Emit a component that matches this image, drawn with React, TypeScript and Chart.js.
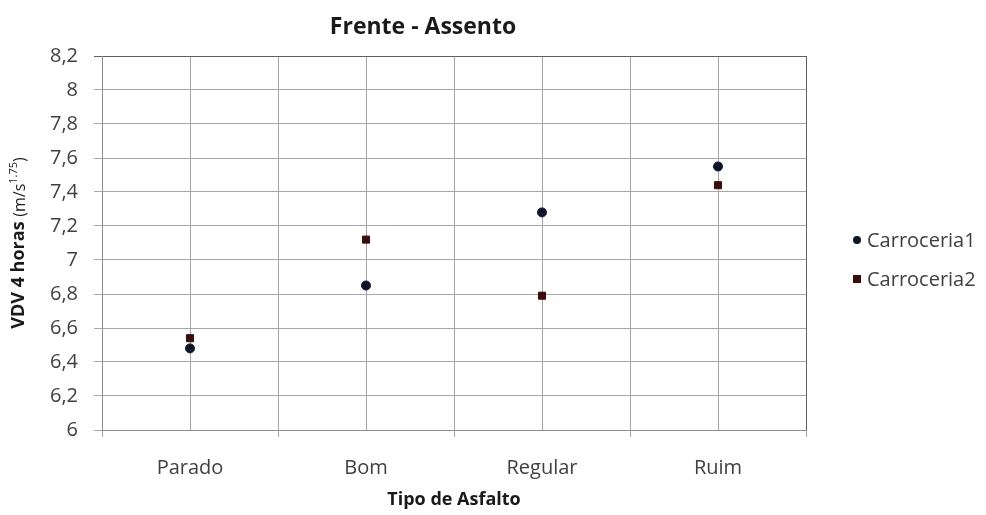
import React, { useEffect, useRef } from 'react';
import { Chart, registerables } from 'chart.js';

Chart.register(...registerables);

const chartTitle = 'Frente - Assento';
const xTitle = 'Tipo de Asfalto';
const yTitleMain = 'VDV 4 horas ';
const yTitleUnit = '(m/s';
const yTitleExp = '1.75';
const yTitleClose = ')';
const categories = ['Parado', 'Bom', 'Regular', 'Ruim'];
const seriesNames = ['Carroceria1', 'Carroceria2'];
const carroceria1 = [6.48, 6.85, 7.28, 7.55];
const carroceria2 = [6.54, 7.12, 6.79, 7.44];
const yMin = 6;
const yMax = 8.2;
const yStep = 0.2;

const FONT = '"Open Sans", Lato, sans-serif';
const C1 = '#0d1628';
const C2 = '#3a0d0d';

const overlay = {
  id: 'overlay',
  afterDraw(chart: any) {
    const ctx = chart.ctx;
    const ca = chart.chartArea;
    ctx.save();
    ctx.fillStyle = '#1a1a1a';
    ctx.textBaseline = 'middle';
    // title
    ctx.font = `bold 23px ${FONT}`;
    ctx.textAlign = 'center';
    ctx.fillText(chartTitle, 423, 27);
    // x title
    ctx.font = `bold 18px ${FONT}`;
    ctx.fillText(xTitle, (ca.left + ca.right) / 2, 500);
    // y title rotated
    ctx.save();
    ctx.translate(19, 0);
    ctx.rotate(-Math.PI / 2);
    ctx.textAlign = 'left';
    const parts: [string, string, number][] = [
      [yTitleMain, `bold 18px ${FONT}`, 0],
      [yTitleUnit, `16px ${FONT}`, 1],
      [yTitleExp, `11px ${FONT}`, -5],
      [yTitleClose, `16px ${FONT}`, 1],
    ];
    let total = 0;
    parts.forEach(([t, f]) => { ctx.font = f; total += ctx.measureText(t).width; });
    let x = -((ca.top + ca.bottom) / 2 + total / 2);
    parts.forEach(([t, f, dy]) => {
      ctx.font = f;
      ctx.fillText(t, x, dy);
      x += ctx.measureText(t).width;
    });
    ctx.restore();
    // legend
    ctx.font = `20px ${FONT}`;
    ctx.textAlign = 'left';
    const ly = [240, 279];
    seriesNames.forEach((name, i) => {
      const ds = chart.data.datasets[i];
      ctx.fillStyle = ds.backgroundColor;
      if (i === 0) {
        ctx.beginPath();
        ctx.arc(857, ly[i], 4, 0, Math.PI * 2);
        ctx.fill();
      } else {
        ctx.fillRect(853, ly[i] - 4, 8, 8);
      }
      ctx.fillStyle = '#404040';
      ctx.fillText(name, 867, ly[i] + 1);
    });
    ctx.restore();
  },
};

export default function App() {
  const ref = useRef<HTMLCanvasElement>(null);
  useEffect(() => {
    document.body.style.margin = '0';
    const chart = new Chart(ref.current!, {
      type: 'scatter',
      data: {
        datasets: [
          {
            label: seriesNames[0],
            data: carroceria1.map((y, i) => ({ x: i + 0.5, y })),
            backgroundColor: C1,
            borderColor: C1,
            pointStyle: 'circle',
            pointRadius: 4.5,
          },
          {
            label: seriesNames[1],
            data: carroceria2.map((y, i) => ({ x: i + 0.5, y })),
            backgroundColor: C2,
            borderColor: C2,
            pointStyle: 'rect',
            pointRadius: 5,
          },
        ],
      },
      options: {
        animation: false,
        responsive: false,
        maintainAspectRatio: false,
        layout: { padding: { top: 56, right: 180, left: 0, bottom: 0 } },
        plugins: { legend: { display: false }, title: { display: false }, tooltip: { enabled: false } },
        scales: {
          x: {
            type: 'linear',
            min: 0,
            max: categories.length,
            afterFit: (s: any) => { s.height = 85; },
            afterBuildTicks: (s: any) => {
              const t = [];
              for (let i = 0; i <= categories.length * 2; i++) t.push({ value: i / 2 });
              s.ticks = t;
            },
            ticks: {
              autoSkip: false,
              maxRotation: 0,
              padding: 19,
              color: '#404040',
              font: { family: FONT, size: 20 },
              callback: (v: any) => {
                const n = Number(v);
                return Number.isInteger(n) ? '' : categories[Math.floor(n)];
              },
            },
            grid: {
              color: (c: any) => (c.tick && c.tick.value === categories.length ? '#606060' : '#a6a6a6'),
              tickColor: (c: any) => (c.tick && Number.isInteger(c.tick.value) ? '#a6a6a6' : 'rgba(0,0,0,0)'),
              tickLength: 7,
              lineWidth: 1,
            },
            border: { color: '#8c8c8c' },
          },
          y: {
            min: yMin,
            max: yMax,
            afterFit: (s: any) => { s.width = 102; },
            afterBuildTicks: (s: any) => {
              const t = [];
              const n = Math.round((yMax - yMin) / yStep);
              for (let i = 0; i <= n; i++) t.push({ value: Math.round((yMin + i * yStep) * 10) / 10 });
              s.ticks = t;
            },
            ticks: {
              padding: 16,
              color: '#404040',
              font: { family: FONT, size: 20 },
              callback: (v: any) => String(Math.round(Number(v) * 10) / 10).replace('.', ','),
            },
            grid: {
              color: (c: any) => (c.tick && Math.abs(c.tick.value - yMax) < 1e-6 ? '#606060' : '#a6a6a6'),
              tickLength: 8,
              lineWidth: 1,
            },
            border: { color: '#8c8c8c' },
          },
        },
      },
      plugins: [overlay],
    } as any);
    return () => chart.destroy();
  }, []);
  return (
    <div style={{ width: 986, height: 515, background: '#fff' }}>
      <canvas ref={ref} width={986} height={515} style={{ display: 'block' }} />
    </div>
  );
}
